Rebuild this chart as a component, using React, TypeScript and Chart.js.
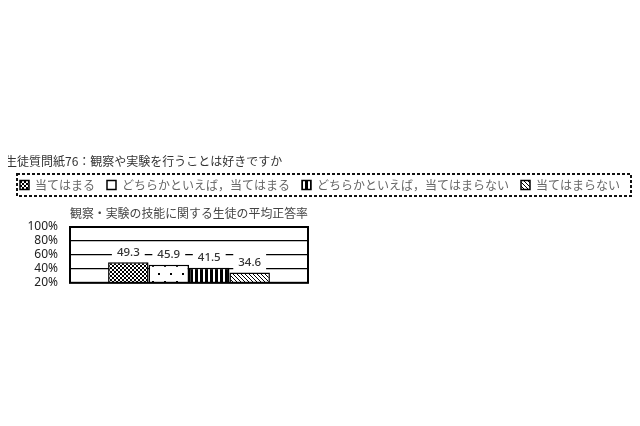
import { useEffect, useRef } from "react"
import { Chart, registerables } from "chart.js"

Chart.register(...registerables)

// Data
const questionText = "生徒質問紙76：観察や実験を行うことは好きですか"
const chartTitle = "観察・実験の技能に関する生徒の平均正答率"
const categories = [""]
const responseLabels = [
  "当てはまる",
  "どちらかといえば，当てはまる",
  "どちらかといえば，当てはまらない",
  "当てはまらない",
]
const correctRates = [49.3, 45.9, 41.5, 34.6]
const yTicks = [20, 40, 60, 80, 100]
const patternKinds = ["cross", "dots", "stripes", "diagonal"]

const cjk = '"Noto Sans CJK JP", "Noto Sans", sans-serif'

function makePattern(kind: string): CanvasPattern | string {
  const c = document.createElement("canvas")
  const g = c.getContext("2d")
  if (!g) return "#fff"
  if (kind === "cross") {
    c.width = 4
    c.height = 4
    g.fillStyle = "#fff"
    g.fillRect(0, 0, 4, 4)
    g.strokeStyle = "#000"
    g.lineWidth = 1
    g.beginPath()
    g.moveTo(0, 0)
    g.lineTo(4, 4)
    g.moveTo(4, 0)
    g.lineTo(0, 4)
    g.stroke()
  } else if (kind === "dots") {
    c.width = 12
    c.height = 16
    g.fillStyle = "#fff"
    g.fillRect(0, 0, 12, 16)
    g.fillStyle = "#000"
    g.fillRect(3, 3, 2, 2)
    g.fillRect(9, 11, 2, 2)
  } else if (kind === "stripes") {
    c.width = 5
    c.height = 5
    g.fillStyle = "#fff"
    g.fillRect(0, 0, 5, 5)
    g.fillStyle = "#000"
    g.fillRect(0, 0, 3, 5)
  } else {
    c.width = 4
    c.height = 4
    g.fillStyle = "#fff"
    g.fillRect(0, 0, 4, 4)
    g.strokeStyle = "#000"
    g.lineWidth = 1
    g.beginPath()
    g.moveTo(-1, -1)
    g.lineTo(5, 5)
    g.moveTo(-1, 3)
    g.lineTo(1, 5)
    g.moveTo(3, -1)
    g.lineTo(5, 1)
    g.stroke()
  }
  return g.createPattern(c, "repeat") || "#fff"
}

// dashed frame around the legend row
const legendFrame = {
  id: "legendFrame",
  afterDraw(chart: any) {
    const legend = chart.legend
    if (!legend || !legend.legendHitBoxes?.length) return
    const hb = legend.legendHitBoxes[0]
    const cy = hb.top + hb.height / 2
    const ctx = chart.ctx
    ctx.save()
    ctx.strokeStyle = "#111"
    ctx.lineWidth = 2
    ctx.setLineDash([3, 2])
    ctx.strokeRect(legend.left + 12, cy - 11, 614, 22)
    ctx.restore()
  },
}

// value labels with white backing above the bars
const valueLabels = {
  id: "valueLabels",
  afterDatasetsDraw(chart: any) {
    const ctx = chart.ctx
    ctx.save()
    ctx.font = '500 11.5px "Noto Sans", sans-serif'
    ctx.textAlign = "center"
    ctx.textBaseline = "middle"
    chart.data.datasets.forEach((ds: any, i: number) => {
      const bar = chart.getDatasetMeta(i).data[0]
      if (!bar) return
      const text = ds.data[0].toFixed(1)
      const w = ctx.measureText(text).width + 10
      const y = bar.y - 10
      ctx.fillStyle = "#fff"
      ctx.fillRect(bar.x - w / 2, y - 9, w, 18)
      ctx.fillStyle = "#333"
      ctx.fillText(text, bar.x, y)
    })
    ctx.restore()
  },
}

// black frame round the plot
const plotFrame = {
  id: "plotFrame",
  afterDraw(chart: any) {
    const { left, top, width, height } = chart.chartArea
    const ctx = chart.ctx
    ctx.save()
    ctx.strokeStyle = "#000"
    ctx.lineWidth = 2
    ctx.strokeRect(left, top, width, height)
    ctx.restore()
  },
}

function RateChart() {
  const chartRef = useRef<HTMLCanvasElement>(null)
  const chartInstance = useRef<Chart | null>(null)

  useEffect(() => {
    if (!chartRef.current) return
    if (chartInstance.current) chartInstance.current.destroy()
    const ctx = chartRef.current.getContext("2d")
    if (!ctx) return

    chartInstance.current = new Chart(ctx, {
      type: "bar",
      data: {
        labels: categories,
        datasets: responseLabels.map((label, i) => ({
          label,
          data: [correctRates[i]],
          backgroundColor: makePattern(patternKinds[i]),
          borderColor: "#000",
          borderWidth: 1.5,
          barPercentage: 1,
          categoryPercentage: 0.68,
        })),
      },
      options: {
        animation: false,
        responsive: true,
        maintainAspectRatio: false,
        layout: { padding: 0 },
        plugins: {
          title: {
            display: true,
            text: questionText,
            align: "start",
            position: "top",
            weight: 2000,
            color: "#333",
            font: { size: 12, weight: "normal", family: cjk, lineHeight: 1 },
            padding: { top: 5, bottom: 0 },
          },
          legend: {
            display: true,
            position: "top",
            weight: 1500,
            labels: {
              boxWidth: 9,
              boxHeight: 9,
              padding: 12,
              color: "#666",
              font: { size: 12, family: cjk },
            },
          },
          subtitle: {
            display: true,
            text: chartTitle,
            position: "top",
            weight: 1000,
            fullSize: false,
            color: "#444",
            font: { size: 12, family: cjk, lineHeight: 1 },
            padding: { top: 6, bottom: 8 },
          },
          tooltip: { enabled: false },
        },
        scales: {
          x: { display: false },
          y: {
            min: 20,
            max: 100,
            afterBuildTicks: (s: any) => {
              s.ticks = yTicks.map((v) => ({ value: v }))
            },
            afterFit: (s: any) => {
              s.width = 65
            },
            grid: { color: "#000", lineWidth: 1.2, drawTicks: false },
            border: { display: true, color: "#000", width: 2 },
            ticks: {
              autoSkip: false,
              padding: 12,
              color: "#222",
              font: { size: 12, family: '"Noto Sans", sans-serif' },
              callback: (v: any) => v + "%",
            },
          },
          spacer: {
            type: "linear",
            position: "right",
            display: true,
            grid: { display: false },
            border: { display: false },
            ticks: { display: false },
            afterFit: (s: any) => {
              s.width = 327
            },
          },
        },
      },
      plugins: [legendFrame, valueLabels, plotFrame],
    } as any)

    return () => {
      if (chartInstance.current) {
        chartInstance.current.destroy()
        chartInstance.current = null
      }
    }
  }, [])

  return (
    <div style={{ position: "relative", marginTop: 142, marginLeft: -3, width: 630, height: 152 }}>
      <canvas ref={chartRef}></canvas>
    </div>
  )
}

export default function App() {
  return <RateChart />
}
